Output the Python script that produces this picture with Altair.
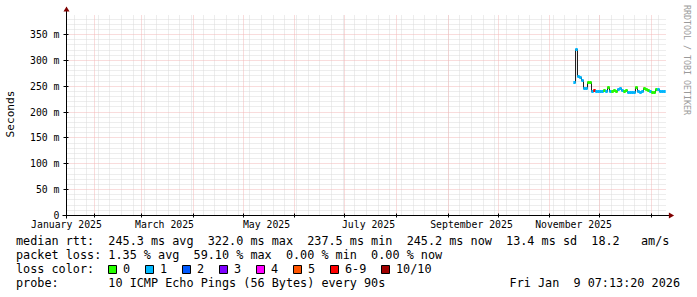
import altair as alt
import pandas as pd

# ---------------- data ----------------
median_ms = [258, 322, 268, 267, 262, 245, 246, 258, 257, 240,
             241, 240, 240, 239, 240, 242, 240, 248, 240, 239,
             241, 240, 243, 245, 242, 240, 241, 238, 237, 237,
             238, 248, 239, 238, 240, 245, 244, 241, 240, 238,
             237, 243, 243, 240, 240, 240]
loss_cls = ["1", "1", "1", "1", "1", "1", "1", "0", "0", "1",
            "6-9", "1", "1", "1", "1", "0", "1", "0", "1", "0",
            "0", "0", "1", "1", "1", "0", "0", "1", "1", "1",
            "1", "0", "1", "1", "1", "0", "0", "0", "1", "0",
            "0", "0", "1", "1", "1", "1"]
sample_start = "2025-11-15T17:00:00Z"
sample_step_hours = 28.8

loss_labels = ["0", "1", "2", "3", "4", "5", "6-9", "10/10"]
loss_colors = ["#26ff00", "#00b8ff", "#0059ff", "#7e00ff",
               "#ff00ff", "#ff5500", "#ff0000", "#a10000"]

y_tick_values = [0, 0.05, 0.10, 0.15, 0.20, 0.25, 0.30, 0.35]
y_tick_labels = ["0  ", "50 m", "100 m", "150 m", "200 m", "250 m", "300 m", "350 m"]
month_label_dates = ["2025-01-15", "2025-03-15", "2025-05-15",
                     "2025-07-15", "2025-09-15", "2025-11-15"]
month_labels = ["January 2025", "March 2025", "May 2025",
                "July 2025", "September 2025", "November 2025"]

legend_line1 = "median rtt:  245.3 ms avg  322.0 ms max  237.5 ms min  245.2 ms now  13.4 ms sd  18.2   am/s"
legend_line2 = "packet loss: 1.35 % avg  59.10 % max  0.00 % min  0.00 % now"
legend_line3 = "loss color:"
legend_line4 = "probe:       10 ICMP Echo Pings (56 Bytes) every 90s"
timestamp_text = "Fri Jan  9 07:13:20 2026"
y_title = "Seconds"
watermark = "RRDTOOL / TOBI OETIKER"

# ---------------- layout ----------------
W, H = 600, 200
PAD_L, PAD_T = 66.5, 15.5
FONT = "DejaVu Sans Mono"

t_start = pd.Timestamp("2025-01-14T22:00:00Z")
t_end = t_start + pd.Timedelta(days=360)
Y_MAX = 0.3868


def ms(t):
    return int(pd.Timestamp(t).timestamp() * 1000)


def iso(t):
    return pd.Timestamp(t).strftime("%Y-%m-%dT%H:%M:%SZ")


def nb(s):
    return s.replace(" ", "\u00a0")


xs = alt.Scale(type="utc", domain=[ms(t_start), ms(t_end)], round=True)
ys = alt.Scale(domain=[0, Y_MAX], nice=False, zero=False, round=True)

times = [iso(pd.Timestamp(sample_start) + pd.Timedelta(hours=sample_step_hours * i))
         for i in range(len(median_ms))]
df = pd.DataFrame({"t": times, "median": [v / 1000 for v in median_ms], "cls": loss_cls})

minor_h = [v / 1000 for v in range(10, 390, 10) if v % 50 != 0 and v / 1000 <= Y_MAX]
major_h = [v for v in y_tick_values if v > 0]
month_starts = [iso(d) for d in pd.date_range("2025-02-01", "2026-01-01", freq="MS", tz="UTC")]
week_starts = [iso(d) for d in pd.date_range("2025-01-20", "2026-01-05", freq="7D", tz="UTC")]

dummy = alt.Data(values=[{"a": 1}])

GRID_MINOR = "#dadada"
GRID_MAJOR = "#f3b9b9"
DASH = [1, 1]

layers = []

# minor grid
layers.append(alt.Chart(pd.DataFrame({"v": minor_h})).mark_rule(
    color=GRID_MINOR, strokeDash=DASH, strokeWidth=1).encode(
    y=alt.Y("v:Q", scale=ys, axis=None), x=alt.value(0), x2=alt.value(W)))
layers.append(alt.Chart(pd.DataFrame({"d": week_starts})).mark_rule(
    color=GRID_MINOR, strokeDash=DASH, strokeWidth=1).encode(
    x=alt.X("d:T", scale=xs, axis=None), y=alt.value(0), y2=alt.value(H)))
# major grid
layers.append(alt.Chart(pd.DataFrame({"v": major_h})).mark_rule(
    color=GRID_MAJOR, strokeDash=DASH, strokeWidth=1).encode(
    y=alt.Y("v:Q", scale=ys, axis=None), x=alt.value(0), x2=alt.value(W)))
layers.append(alt.Chart(pd.DataFrame({"d": month_starts})).mark_rule(
    color=GRID_MAJOR, strokeDash=DASH, strokeWidth=1).encode(
    x=alt.X("d:T", scale=xs, axis=None), y=alt.value(0), y2=alt.value(H)))
# small ticks on both axes
layers.append(alt.Chart(pd.DataFrame({"d": month_starts})).mark_rule(
    color="#000000", strokeWidth=1).encode(
    x=alt.X("d:T", scale=xs, axis=None), y=alt.value(H - 2), y2=alt.value(H + 2)))
layers.append(alt.Chart(pd.DataFrame({"v": y_tick_values})).mark_rule(
    color="#000000", strokeWidth=1).encode(
    y=alt.Y("v:Q", scale=ys, axis=None), x=alt.value(-3), x2=alt.value(2)))

# axis lines
layers.append(alt.Chart(dummy).mark_rule(color="#000000", strokeWidth=1).encode(
    x=alt.value(0), y=alt.value(-8), y2=alt.value(H + 3)))
layers.append(alt.Chart(dummy).mark_rule(color="#000000", strokeWidth=1).encode(
    x=alt.value(-4), x2=alt.value(W + 4), y=alt.value(H)))

# axis labels, placed through the scales
layers.append(alt.Chart(pd.DataFrame({"v": y_tick_values, "lab": [nb(s) for s in y_tick_labels]}))
              .mark_text(font=FONT, fontSize=9.8, align="right", baseline="middle", color="#000000")
              .encode(y=alt.Y("v:Q", scale=ys, axis=None), x=alt.value(-7), text="lab:N"))
layers.append(alt.Chart(pd.DataFrame({"d": [d + "T00:00:00Z" for d in month_label_dates],
                                      "lab": [nb(s) for s in month_labels]}))
              .mark_text(font=FONT, fontSize=9.8, align="center", baseline="middle", color="#000000")
              .encode(x=alt.X("d:T", scale=xs, axis=None), y=alt.value(H + 9.5), text="lab:N"))

# median line and loss-coloured bands
layers.append(alt.Chart(df).mark_line(color="#202020", strokeWidth=1, interpolate="step").encode(
    x=alt.X("t:T", scale=xs, axis=None),
    y=alt.Y("median:Q", scale=ys, axis=None)))
layers.append(alt.Chart(df).mark_tick(orient="horizontal", size=2.4, thickness=3, opacity=1).encode(
    x=alt.X("t:T", scale=xs, axis=None),
    y=alt.Y("median:Q", scale=ys, axis=None),
    color=alt.Color("cls:N", scale=alt.Scale(domain=loss_labels, range=loss_colors), legend=None)))

# arrows
ARROW = "#7f0000"
layers.append(alt.Chart(dummy).mark_point(shape="triangle-up", filled=True, size=36,
                                          color=ARROW, opacity=1).encode(
    x=alt.value(0), y=alt.value(-6.5)))
layers.append(alt.Chart(dummy).mark_point(shape="triangle-right", filled=True, size=36,
                                          color=ARROW, opacity=1).encode(
    x=alt.value(W + 5), y=alt.value(H)))


def txt(s, x, y, size=11.8, align="left", angle=0, color="#000000"):
    return alt.Chart(dummy).mark_text(font=FONT, fontSize=size, align=align, baseline="middle",
                                      angle=angle, color=color).encode(
        x=alt.value(x - PAD_L), y=alt.value(y - PAD_T), text=alt.value(nb(s)))


# y title and watermark
layers.append(txt(y_title, 11, 114, size=11.1, align="center", angle=270))
layers.append(txt(watermark, 686, 5, size=8.3, align="left", angle=90, color="#9a9a9a"))

# legend text
layers.append(txt(legend_line1, 16, 241))
layers.append(txt(legend_line2, 16, 255))
layers.append(txt(legend_line3, 16, 269))
layers.append(txt(legend_line4, 16, 283))
layers.append(txt(timestamp_text, 680, 283, align="right"))

box_left = 108
for i, (lab, col) in enumerate(zip(loss_labels, loss_colors)):
    if i > 0:
        box_left += 37 + 7 * (len(loss_labels[i - 1]) - 1)
    layers.append(alt.Chart(dummy).mark_square(size=64, filled=True, color=col, stroke="#000000",
                                               strokeWidth=1, opacity=1).encode(
        x=alt.value(box_left + 4.5 - PAD_L), y=alt.value(269.5 - PAD_T)))
    layers.append(txt(lab, box_left + 15, 269))

chart = alt.layer(*layers).properties(
    width=W, height=H,
    padding={"left": PAD_L, "top": PAD_T, "right": 697 - W - PAD_L, "bottom": 297 - H - PAD_T},
    autosize=alt.AutoSizeParams(type="none"),
    background="#ffffff",
).configure_view(stroke=None)

chart.save("out.html", embed_options={"renderer": "svg", "actions": False})
